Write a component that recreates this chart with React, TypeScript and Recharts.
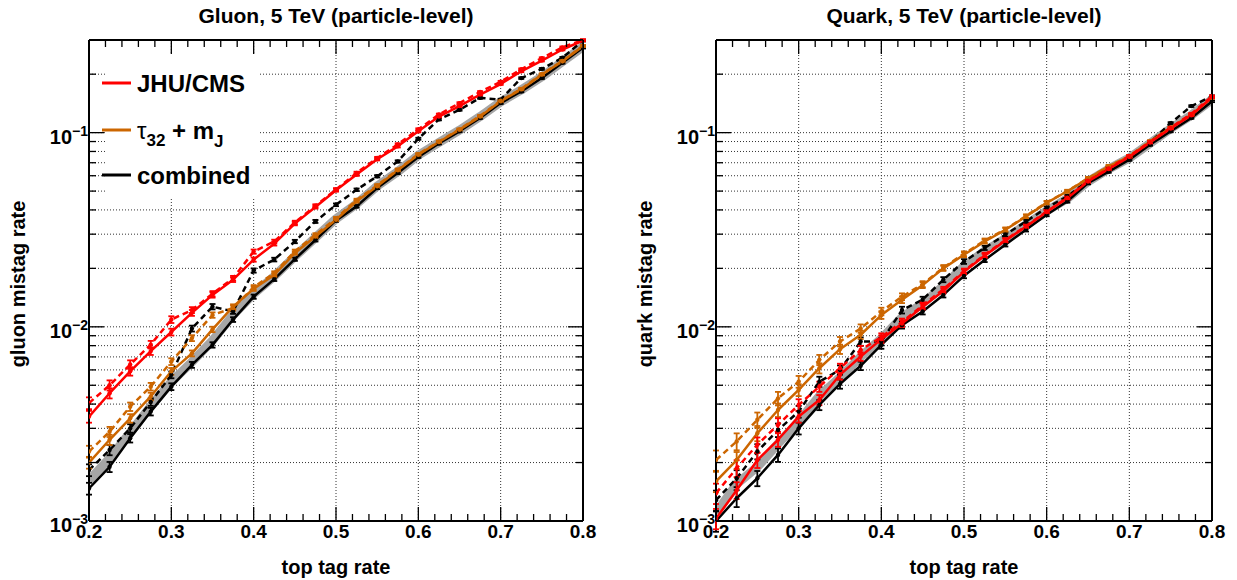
import React from "react";
import { LineChart, Line, XAxis, YAxis, ReferenceLine, ErrorBar } from "recharts";

const FONT = "'Liberation Sans', Arial, Helvetica, sans-serif";
const RED = "#ff0000";
const ORANGE = "#cc6600";
const BLACK = "#000000";
const GREY = "#a6a6a6";

// top tag rate (x) sampled every 0.025
const tagRate = [
  0.2, 0.225, 0.25, 0.275, 0.3, 0.325, 0.35, 0.375, 0.4, 0.425, 0.45, 0.475, 0.5,
  0.525, 0.55, 0.575, 0.6, 0.625, 0.65, 0.675, 0.7, 0.725, 0.75, 0.775, 0.8,
];

// gluon mistag rate
const gluonJhu = [0.00345, 0.00455, 0.0059, 0.0075, 0.0094, 0.0118, 0.0146, 0.0175, 0.0222, 0.0268, 0.034, 0.0414, 0.0505, 0.0608, 0.073, 0.085, 0.1016, 0.121, 0.137, 0.157, 0.178, 0.207, 0.235, 0.268, 0.298];
const gluonJhuAlt = [0.00405, 0.005, 0.0064, 0.0081, 0.0109, 0.0122, 0.0148, 0.0178, 0.0244, 0.0275, 0.0345, 0.042, 0.051, 0.062, 0.074, 0.087, 0.104, 0.124, 0.142, 0.162, 0.183, 0.212, 0.242, 0.275, 0.3];
const gluonTau = [0.002, 0.00262, 0.00338, 0.00438, 0.0059, 0.0073, 0.0097, 0.0127, 0.0157, 0.0185, 0.024, 0.0292, 0.0356, 0.0443, 0.0529, 0.064, 0.077, 0.0895, 0.1036, 0.121, 0.145, 0.167, 0.199, 0.233, 0.279];
const gluonTauAlt = [0.00228, 0.00288, 0.00388, 0.00492, 0.00662, 0.00875, 0.0115, 0.0125, 0.016, 0.0189, 0.0245, 0.0298, 0.0362, 0.045, 0.0535, 0.0645, 0.0775, 0.09, 0.104, 0.122, 0.146, 0.168, 0.2, 0.234, 0.28];
const gluonComb = [0.00147, 0.0019, 0.00267, 0.00366, 0.00492, 0.00637, 0.00807, 0.0109, 0.0143, 0.0176, 0.0223, 0.028, 0.0353, 0.0417, 0.0519, 0.062, 0.075, 0.088, 0.1016, 0.119, 0.142, 0.163, 0.191, 0.229, 0.274];
const gluonCombAlt = [0.00183, 0.00232, 0.003, 0.0041, 0.00566, 0.0098, 0.0127, 0.012, 0.0195, 0.0222, 0.0275, 0.0349, 0.0425, 0.0508, 0.0596, 0.0711, 0.093, 0.117, 0.131, 0.151, 0.148, 0.191, 0.213, 0.243, 0.298];
const gluonBand = [0.00162, 0.0021, 0.00285, 0.0039, 0.0052, 0.0066, 0.0085, 0.0115, 0.0148, 0.0182, 0.023, 0.0288, 0.036, 0.043, 0.053, 0.063, 0.0765, 0.089, 0.103, 0.121, 0.144, 0.166, 0.194, 0.232, 0.277];
const gluonErr = [0.07, 0.06, 0.05, 0.045, 0.04, 0.035, 0.032, 0.028, 0.025, 0.022, 0.02, 0.018, 0.016, 0.015, 0.014, 0.013, 0.012, 0.011, 0.01, 0.01, 0.01, 0.01, 0.01, 0.01, 0.01];

// quark mistag rate
const quarkJhu = [0.00103, 0.00144, 0.00206, 0.00262, 0.00345, 0.0042, 0.00566, 0.00703, 0.00864, 0.0104, 0.0127, 0.0153, 0.0192, 0.0232, 0.0278, 0.0328, 0.039, 0.046, 0.056, 0.065, 0.075, 0.089, 0.105, 0.123, 0.152];
const quarkJhuAlt = [0.00139, 0.00187, 0.00247, 0.00313, 0.00396, 0.00492, 0.00612, 0.0076, 0.00886, 0.0106, 0.0129, 0.0156, 0.0194, 0.0235, 0.028, 0.033, 0.0393, 0.0463, 0.0565, 0.0655, 0.0758, 0.0895, 0.106, 0.125, 0.154];
const quarkTau = [0.0016, 0.00206, 0.00283, 0.00373, 0.00473, 0.00612, 0.00767, 0.0091, 0.0115, 0.0138, 0.0164, 0.02, 0.0235, 0.0275, 0.0316, 0.037, 0.0435, 0.0499, 0.058, 0.067, 0.0755, 0.09, 0.106, 0.124, 0.151];
const quarkTauAlt = [0.00206, 0.00257, 0.00332, 0.00428, 0.00522, 0.00676, 0.0084, 0.0098, 0.012, 0.0143, 0.0166, 0.0202, 0.0238, 0.0278, 0.0318, 0.0372, 0.0437, 0.05, 0.0582, 0.0672, 0.0757, 0.0902, 0.106, 0.124, 0.152];
const quarkComb = [0.001, 0.00131, 0.00166, 0.00219, 0.003, 0.00396, 0.00508, 0.0063, 0.00807, 0.0102, 0.012, 0.0146, 0.0183, 0.0221, 0.0265, 0.0316, 0.0378, 0.0443, 0.055, 0.063, 0.0726, 0.0867, 0.1016, 0.119, 0.145];
const quarkCombAlt = [0.00128, 0.00166, 0.00228, 0.00294, 0.00366, 0.00522, 0.006, 0.0084, 0.0084, 0.0122, 0.0138, 0.0175, 0.0217, 0.0255, 0.0298, 0.0349, 0.041, 0.047, 0.0565, 0.066, 0.0745, 0.089, 0.112, 0.137, 0.154];
const quarkBand = [0.0011, 0.00155, 0.0019, 0.0025, 0.00325, 0.0044, 0.0055, 0.007, 0.0087, 0.0112, 0.0132, 0.0162, 0.0205, 0.0245, 0.0285, 0.0335, 0.0395, 0.0458, 0.056, 0.065, 0.074, 0.088, 0.105, 0.123, 0.148];
const quarkErr = [0.12, 0.1, 0.09, 0.08, 0.07, 0.06, 0.055, 0.05, 0.045, 0.04, 0.035, 0.03, 0.028, 0.025, 0.022, 0.02, 0.018, 0.016, 0.015, 0.014, 0.013, 0.012, 0.011, 0.01, 0.01];

// axis ticks
const xMajorTicks = [0.2, 0.3, 0.4, 0.5, 0.6, 0.7, 0.8];
const xTicks = Array.from({ length: 31 }, (_, i) => Math.round((0.2 + i * 0.02) * 100) / 100);
const xGrid = [0.3, 0.4, 0.5, 0.6, 0.7];
const yMajorTicks = [0.001, 0.01, 0.1];
const yExponents = ["−3", "−2", "−1"];
const yTicks = [0.001, 0.01, 0.1]
  .flatMap((d) => [1, 2, 3, 4, 5, 6, 7, 8, 9].map((m) => Number((d * m).toPrecision(2))))
  .filter((v) => v <= 0.3);
const yGrid = yTicks.filter((v) => v > 0.001);

const near = (a: number, b: number) => Math.abs(a - b) < 1e-9;
const isMajorX = (v: number) => xMajorTicks.some((t) => near(t, v));
const majorY = (v: number) => yMajorTicks.findIndex((t) => near(t, v));

const series = [
  { key: "band", color: GREY, width: 9, dash: undefined as string | undefined, marks: false },
  { key: "combAlt", color: BLACK, width: 2.5, dash: "6 4", marks: true },
  { key: "comb", color: BLACK, width: 2.5, dash: undefined, marks: true },
  { key: "tauAlt", color: ORANGE, width: 2.5, dash: "6 4", marks: true },
  { key: "tau", color: ORANGE, width: 2.5, dash: undefined, marks: true },
  { key: "jhuAlt", color: RED, width: 2.5, dash: "6 4", marks: true },
  { key: "jhu", color: RED, width: 2.5, dash: undefined, marks: true },
];

function buildRows(cols: Record<string, number[]>, relErr: number[]) {
  return tagRate.map((x, i) => {
    const row: Record<string, number> = { x };
    for (const k of Object.keys(cols)) {
      row[k] = cols[k][i];
      row[k + "Err"] = cols[k][i] * relErr[i];
    }
    return row;
  });
}

const gluonRows = buildRows(
  { jhu: gluonJhu, jhuAlt: gluonJhuAlt, tau: gluonTau, tauAlt: gluonTauAlt, comb: gluonComb, combAlt: gluonCombAlt, band: gluonBand },
  gluonErr
);
const quarkRows = buildRows(
  { jhu: quarkJhu, jhuAlt: quarkJhuAlt, tau: quarkTau, tauAlt: quarkTauAlt, comb: quarkComb, combAlt: quarkCombAlt, band: quarkBand },
  quarkErr
);

const txt = { fontFamily: FONT, fontWeight: "bold" as const, fill: "#000" };

function BottomTick(props: any) {
  const { x, y, payload } = props;
  const major = isMajorX(payload.value);
  return (
    <g>
      <line x1={x} x2={x} y1={y} y2={y - (major ? 14 : 7)} stroke="#000" strokeWidth={1.3} />
      {major && (
        <text x={x} y={y + 17} textAnchor="middle" fontSize={19} {...txt}>
          {payload.value.toFixed(1)}
        </text>
      )}
    </g>
  );
}

function TopTick(props: any) {
  const { x, y, payload } = props;
  const major = isMajorX(payload.value);
  return <line x1={x} x2={x} y1={y} y2={y + (major ? 14 : 7)} stroke="#000" strokeWidth={1.3} />;
}

function LeftTick(props: any) {
  const { x, y, payload } = props;
  const idx = majorY(payload.value);
  return (
    <g>
      <line x1={x} x2={x + (idx >= 0 ? 15 : 7)} y1={y} y2={y} stroke="#000" strokeWidth={1.3} />
      {idx >= 0 && (
        <text x={x - 1} y={y + 11} textAnchor="end" fontSize={20} {...txt}>
          10
          <tspan dy={-8} fontSize={14}>
            {yExponents[idx]}
          </tspan>
        </text>
      )}
    </g>
  );
}

function RightTick(props: any) {
  const { x, y, payload } = props;
  const major = majorY(payload.value) >= 0;
  return <line x1={x} x2={x - (major ? 15 : 7)} y1={y} y2={y} stroke="#000" strokeWidth={1.3} />;
}

type PanelProps = {
  left: number;
  width: number;
  plotLeft: number;
  plotRight: number;
  title: string;
  yTitle: string;
  rows: Record<string, number>[];
  legend?: boolean;
};

const PLOT_TOP = 40;
const PLOT_BOTTOM = 521;
const H = 580;
const AX = 1; // thickness reserved for each axis

function Panel({ left, width, plotLeft, plotRight, title, yTitle, rows, legend }: PanelProps) {
  const cx = (plotLeft + plotRight) / 2;
  const common = {
    tickSize: 0,
    tickMargin: 0,
    tickLine: false,
    interval: 0 as const,
    allowDataOverflow: true,
    axisLine: { stroke: "#000", strokeWidth: 2 },
  };
  return (
    <div style={{ position: "absolute", left, top: 0, width, height: H }}>
      <LineChart
        width={width}
        height={H}
        data={rows}
        margin={{ top: PLOT_TOP - AX, bottom: H - PLOT_BOTTOM - AX, left: plotLeft - AX, right: width - plotRight - AX }}
      >
        <XAxis {...common} dataKey="x" type="number" domain={[0.2, 0.8]} ticks={xTicks} height={AX} tick={<BottomTick />} />
        <XAxis
          {...common}
          xAxisId="top"
          orientation="top"
          dataKey="x"
          type="number"
          domain={[0.2, 0.8]}
          ticks={xTicks}
          height={AX}
          tick={<TopTick />}
        />
        <YAxis {...common} type="number" scale="log" domain={[0.001, 0.3]} ticks={yTicks} width={AX} tick={<LeftTick />} />
        <YAxis
          {...common}
          yAxisId="right"
          orientation="right"
          type="number"
          scale="log"
          domain={[0.001, 0.3]}
          ticks={yTicks}
          width={AX}
          tick={<RightTick />}
        />
        {xGrid.map((v) => (
          <ReferenceLine key={"gx" + v} x={v} stroke="#333" strokeWidth={1} strokeDasharray="1 2" />
        ))}
        {yGrid.map((v) => (
          <ReferenceLine key={"gy" + v} y={v} stroke="#333" strokeWidth={1} strokeDasharray="1 2" />
        ))}
        {series.map((s) => (
          <Line
            key={s.key}
            dataKey={s.key}
            type="linear"
            stroke={s.color}
            strokeWidth={s.width}
            strokeDasharray={s.dash}
            strokeLinejoin="round"
            dot={s.marks ? { r: 2.2, fill: s.color, stroke: "none" } : false}
            activeDot={false}
            isAnimationActive={false}
          >
            {s.marks && (
              <ErrorBar dataKey={s.key + "Err"} direction="y" width={3} stroke={s.color} strokeWidth={1.8} />
            )}
          </Line>
        ))}
      </LineChart>
      <svg width={width} height={H} style={{ position: "absolute", left: 0, top: 0, pointerEvents: "none" }}>
        <text x={cx} y={23} textAnchor="middle" fontSize={21} {...txt}>
          {title}
        </text>
        <text x={cx} y={574} textAnchor="middle" fontSize={20} {...txt}>
          top tag rate
        </text>
        <text
          transform={`translate(${plotLeft - 64}, 284) rotate(-90)`}
          textAnchor="middle"
          fontSize={20}
          {...txt}
        >
          {yTitle}
        </text>
        {legend && (
          <g>
            <rect x={plotLeft + 16} y={PLOT_TOP + 15} width={153} height={142} fill="#fff" />
            <line x1={102} x2={131} y1={83} y2={83} stroke={RED} strokeWidth={3} />
            <text x={137} y={92} fontSize={24} {...txt}>
              JHU/CMS
            </text>
            <line x1={102} x2={131} y1={130} y2={130} stroke={ORANGE} strokeWidth={3} />
            <text x={137} y={139} fontSize={24} {...txt}>
              <tspan fontWeight="normal">τ</tspan>
              <tspan dy={7} fontSize={17}>
                32
              </tspan>
              <tspan dy={-7}> + m</tspan>
              <tspan dy={8} fontSize={17}>
                J
              </tspan>
            </text>
            <line x1={102} x2={131} y1={175} y2={175} stroke={BLACK} strokeWidth={3} />
            <text x={137} y={184} fontSize={24} {...txt}>
              combined
            </text>
          </g>
        )}
      </svg>
    </div>
  );
}

export default function App() {
  return (
    <div style={{ position: "absolute", left: 0, top: 0, width: 1237, height: H, background: "#fff", fontFamily: FONT }}>
      <Panel
        left={0}
        width={618}
        plotLeft={89}
        plotRight={583}
        title="Gluon, 5 TeV (particle-level)"
        yTitle="gluon mistag rate"
        rows={gluonRows}
        legend
      />
      <Panel
        left={618}
        width={619}
        plotLeft={98}
        plotRight={594}
        title="Quark, 5 TeV (particle-level)"
        yTitle="quark mistag rate"
        rows={quarkRows}
      />
    </div>
  );
}
